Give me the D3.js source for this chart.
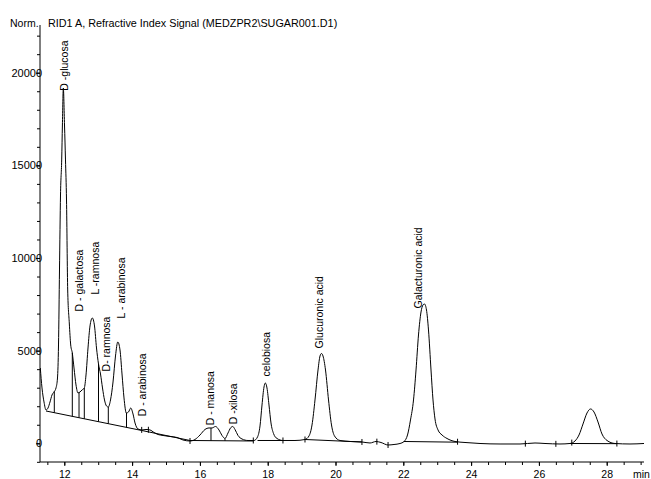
<!DOCTYPE html>
<html lang="en">
<head>
  <meta charset="UTF-8">
  <title>RID1 A, Refractive Index Signal</title>
  <script src="https://d3js.org/d3.v7.min.js"></script>
  <style>
    body {
      margin: 0;
      background: #fff;
    }
    svg {
      display: block;
      font-family: "Liberation Sans", Arial, sans-serif;
    }
    .trace, .base, .drop, .mark {
      fill: none;
      stroke: #000;
      stroke-width: 1;
    }
    .axis text {
      font-size: 10.5px;
      fill: #000;
    }
    .axis line, .axis path {
      stroke: #000;
    }
    .peak-label {
      font-size: 10.5px;
    }
  </style>
</head>
<body>
  <svg width="651" height="479"></svg>
  <script>
    // detector trace (minutes, signal)
    const traceTime = [
      11.292, 11.342, 11.401, 11.460, 11.519, 11.578, 11.637, 11.696, 11.755, 11.799,
      11.829, 11.858, 11.888, 11.923, 11.944, 11.971, 12.006, 12.035, 12.065, 12.100,
      12.147, 12.189, 12.236, 12.286, 12.345, 12.404, 12.463, 12.522, 12.590, 12.640,
      12.699, 12.758, 12.826, 12.891, 12.950, 13.009, 13.068, 13.127, 13.186, 13.245,
      13.298, 13.363, 13.437, 13.510, 13.578, 13.643, 13.702, 13.761, 13.829, 13.894,
      13.959, 14.027, 14.086, 14.174, 14.292, 14.410, 14.528, 14.646, 14.764, 14.912,
      15.118, 15.324, 15.501, 15.708, 15.855, 16.003, 16.150, 16.268, 16.357, 16.460,
      16.563, 16.652, 16.740, 16.829, 16.903, 16.968, 17.035, 17.124, 17.242, 17.419,
      17.596, 17.699, 17.773, 17.832, 17.891, 17.929, 17.979, 18.038, 18.097, 18.171,
      18.274, 18.451, 18.805, 19.100, 19.218, 19.307, 19.395, 19.484, 19.543, 19.587,
      19.631, 19.705, 19.794, 19.882, 19.971, 20.133, 20.428, 20.782, 21.018, 21.195,
      21.342, 21.549, 21.726, 21.903, 22.021, 22.124, 22.212, 22.301, 22.375, 22.448,
      22.522, 22.581, 22.625, 22.684, 22.743, 22.817, 22.876, 22.935, 23.024, 23.142,
      23.289, 23.525, 23.820, 24.263, 24.853, 25.443, 25.885, 26.180, 26.622, 26.917,
      27.065, 27.183, 27.301, 27.419, 27.522, 27.625, 27.743, 27.861, 28.009, 28.245,
      28.687, 29.100
    ];
    const traceSignal = [
      4064, 2985, 2229, 1797, 1905, 2229, 2607, 2769, 2985, 3524,
      5305, 9353, 13400, 15290, 17178, 19175, 17178, 15290, 13131, 8274,
      6493, 5305, 4873, 4064, 3147, 2715, 2769, 2877, 2985, 3686,
      5143, 6331, 6762, 6331, 5143, 4280, 3740, 2985, 2337, 2013,
      1959, 2337, 3308, 4712, 5467, 5035, 3740, 2445, 1635, 1689,
      1905, 1581, 1096, 772, 718, 745, 718, 583, 475, 421,
      367, 313, 178, 124, 205, 448, 745, 826, 826, 907,
      718, 421, 259, 556, 826, 907, 745, 421, 232, 151,
      151, 340, 934, 2067, 3039, 3254, 2985, 2067, 1096, 529,
      259, 151, 151, 205, 394, 988, 2337, 3956, 4712, 4846,
      4712, 3956, 2337, 988, 394, 151, 97, 70, 16, 97,
      43, -92, -65, -11, 97, 448, 1258, 2337, 3956, 5845,
      7086, 7464, 7518, 7194, 6115, 3956, 2337, 1311, 718, 448,
      259, 97, 43, -11, -38, -38, 16, -11, -38, -11,
      124, 448, 1042, 1635, 1851, 1689, 1150, 502, 151, -11,
      -38, -11
    ];

    // peak names and where their labels sit (label centre time, label foot signal)
    const peakNames = [
      "D -glucosa", "D - galactosa", "L -ramnosa", "D- ramnosa", "L - arabinosa",
      "D - arabinosa", "D - manosa", "D -xilosa", "celobiosa", "Glucuronic acid",
      "Galacturonic acid"
    ];
    const peakLabelTime = [11.99, 12.45, 12.905, 13.25, 13.67, 14.31, 16.30, 16.985, 17.95, 19.53, 22.44];
    const peakLabelSignal = [19030, 7115, 8030, 3880, 6740, 1455, 970, 1024, 3611, 5120, 7277];

    // integration baselines
    const baseStartTime = [11.460, 14.283, 15.708, 17.70, 19.10, 22.02, 26.92];
    const baseStartSignal = [1743, 691, 151, 151, 205, 97, -11];
    const baseEndTime = [14.283, 15.708, 17.575, 18.45, 20.78, 23.60, 28.30];
    const baseEndSignal = [691, 151, 124, 151, 70, 60, -20];

    // drop lines between overlapping peaks, and peak start/end marks
    const dropTimes = [11.705, 12.236, 12.434, 12.590, 13.009, 13.298, 13.835, 16.327, 16.740];
    const markTimes = [14.283, 14.48, 15.708, 17.575, 18.45, 19.10, 20.78, 21.22, 21.55, 23.60, 25.60, 26.50, 26.97, 28.30];

    const xTickValues = [12, 14, 16, 18, 20, 22, 24, 26, 28];
    const yTickValues = [0, 5000, 10000, 15000, 20000];

    const svg = d3.select("svg");

    const x = d3.scaleLinear().domain([11.283, 29.10]).range([40, 644]);
    const y = d3.scaleLinear().domain([-1010, 22575]).range([462, 25]);

    function traceAt(t) {
      const i = d3.bisectLeft(traceTime, t);
      if (i <= 0) return traceSignal[0];
      if (i >= traceTime.length) return traceSignal[traceSignal.length - 1];
      const t0 = traceTime[i - 1], t1 = traceTime[i];
      const f = (t - t0) / (t1 - t0);
      return traceSignal[i - 1] + f * (traceSignal[i] - traceSignal[i - 1]);
    }

    function baselineAt(t) {
      for (let i = 0; i < baseStartTime.length; i++) {
        if (t >= baseStartTime[i] && t <= baseEndTime[i]) {
          const f = (t - baseStartTime[i]) / (baseEndTime[i] - baseStartTime[i]);
          return baseStartSignal[i] + f * (baseEndSignal[i] - baseStartSignal[i]);
        }
      }
      return 0;
    }

    svg.append("rect")
      .attr("width", 651)
      .attr("height", 479)
      .attr("fill", "#fff");

    // title
    svg.append("text")
      .attr("x", 10)
      .attr("y", 27)
      .style("font-size", "10.5px")
      .text("Norm.");
    svg.append("text")
      .attr("x", 48)
      .attr("y", 27)
      .style("font-size", "10.8px")
      .text("RID1 A, Refractive Index Signal (MEDZPR2\\SUGAR001.D1)");

    // Y axis: minor ticks every 1000, labelled every 5000
    svg.append("g")
      .attr("class", "axis")
      .attr("transform", "translate(40,0)")
      .call(d3.axisLeft(y).tickValues(d3.range(-1000, 22001, 1000)).tickSize(3).tickSizeOuter(0).tickFormat(""))
      .select(".domain").remove();

    const yAxis = svg.append("g")
      .attr("class", "axis")
      .attr("transform", "translate(40,0)")
      .call(d3.axisLeft(y).tickValues(yTickValues).tickSize(4).tickSizeOuter(0).tickFormat(d3.format("d")));
    yAxis.select(".domain").remove();
    yAxis.selectAll("text").attr("x", 2).style("font-size", "11px");

    // X axis: minor ticks every 0.5 min
    svg.append("g")
      .attr("class", "axis")
      .attr("transform", "translate(0,462)")
      .call(d3.axisBottom(x).tickValues(d3.range(11.5, 29.01, 0.5)).tickSize(3).tickSizeOuter(0).tickFormat(""))
      .select(".domain").remove();

    const xAxis = svg.append("g")
      .attr("class", "axis")
      .attr("transform", "translate(0,462)")
      .call(d3.axisBottom(x).tickValues(xTickValues).tickSize(4).tickPadding(4.5).tickSizeOuter(0).tickFormat(d3.format("d")));
    xAxis.select(".domain").remove();

    svg.append("text")
      .attr("x", 633)
      .attr("y", 478)
      .style("font-size", "10.5px")
      .text("min");

    // axis lines
    svg.append("line")
      .attr("x1", 40).attr("x2", 40)
      .attr("y1", 25).attr("y2", 462)
      .attr("stroke", "#000");
    svg.append("line")
      .attr("x1", 40).attr("x2", 644)
      .attr("y1", 462).attr("y2", 462)
      .attr("stroke", "#000");

    svg.append("clipPath")
      .attr("id", "plot")
      .append("rect")
      .attr("x", 40).attr("y", 25)
      .attr("width", 604).attr("height", 437);

    const plot = svg.append("g").attr("clip-path", "url(#plot)");

    // baselines
    plot.selectAll(".base")
      .data(baseStartTime)
      .enter().append("line")
      .attr("class", "base")
      .attr("x1", (d, i) => x(baseStartTime[i]))
      .attr("y1", (d, i) => y(baseStartSignal[i]))
      .attr("x2", (d, i) => x(baseEndTime[i]))
      .attr("y2", (d, i) => y(baseEndSignal[i]));

    // drop lines
    plot.selectAll(".drop")
      .data(dropTimes)
      .enter().append("line")
      .attr("class", "drop")
      .attr("x1", d => x(d))
      .attr("x2", d => x(d))
      .attr("y1", d => y(baselineAt(d)))
      .attr("y2", d => y(traceAt(d)));

    // start/end marks
    plot.selectAll(".mark")
      .data(markTimes)
      .enter().append("line")
      .attr("class", "mark")
      .attr("x1", d => x(d))
      .attr("x2", d => x(d))
      .attr("y1", d => y(traceAt(d)) - 3)
      .attr("y2", d => y(traceAt(d)) + 3);

    // trace
    const line = d3.line()
      .x((d, i) => x(traceTime[i]))
      .y((d, i) => y(traceSignal[i]))
      .curve(d3.curveMonotoneX);

    plot.append("path")
      .datum(traceTime)
      .attr("class", "trace")
      .attr("d", line);

    // peak labels
    svg.selectAll(".peak-label")
      .data(peakNames)
      .enter().append("text")
      .attr("class", "peak-label")
      .attr("transform", (d, i) => `translate(${x(peakLabelTime[i])},${y(peakLabelSignal[i])}) rotate(-90)`)
      .attr("dy", "0.35em")
      .text(d => d);
  </script>
</body>
</html>
